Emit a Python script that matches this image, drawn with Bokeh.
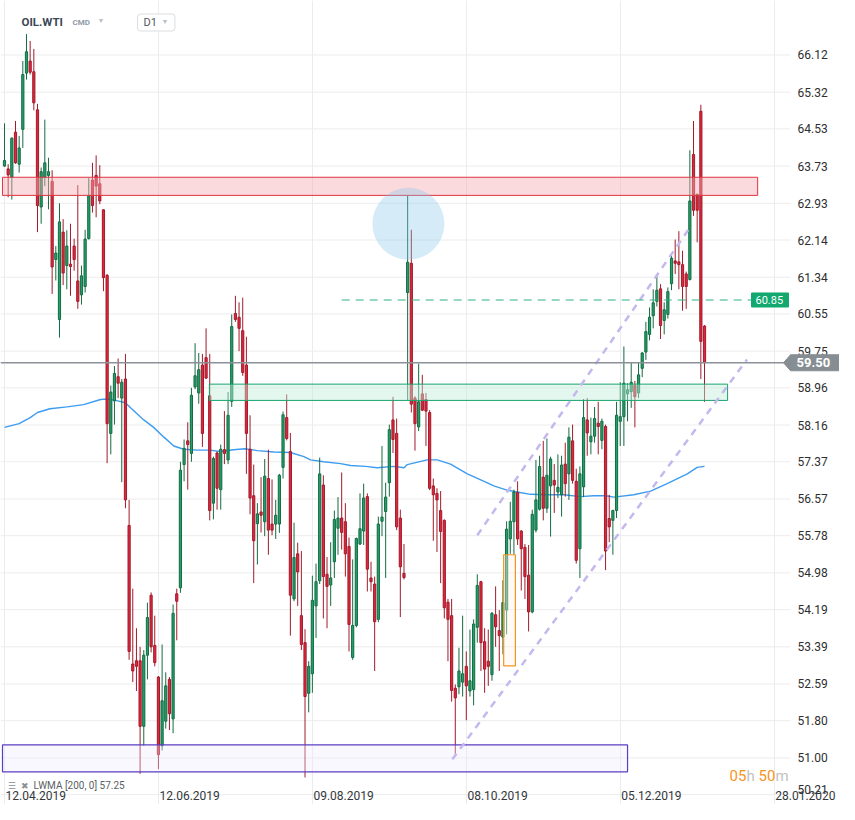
import numpy as np
from bokeh.plotting import figure
from bokeh.models import ColumnDataSource, Range1d, FixedTicker, Label, Grid
from bokeh.core.properties import value
from bokeh.embed import file_html
from bokeh.resources import INLINE

# ---------------- data ----------------
symbol = "OIL.WTI"
opens = [63.73, 63.67, 63.49, 64.46, 63.77, 64.52, 65.73, 65.99, 65.76, 64.94,
         62.85, 63.49, 63.53, 63.40, 61.72, 60.43, 62.31, 61.59, 61.62, 62.01,
         61.26, 60.96, 61.14, 62.17, 63.43, 63.53, 63.35, 62.79, 61.38, 57.98,
         58.68, 59.20, 58.74, 59.15, 56.00, 53.02, 53.09, 53.09, 51.68, 53.21,
         54.50, 53.42, 52.74, 51.26, 51.79, 52.69, 51.84, 54.53, 54.66, 57.31,
         57.82, 57.55, 58.98, 58.85, 59.45, 59.61, 58.79, 56.48, 57.56, 56.77,
         57.63, 57.41, 58.67, 60.56, 60.48, 60.19, 59.45, 57.64, 56.64, 56.04,
         56.29, 56.08, 57.01, 56.03, 56.03, 56.03, 57.25, 58.32, 57.59, 54.42,
         55.39, 54.06, 53.48, 52.39, 52.81, 54.27, 54.81, 56.87, 54.95, 54.72,
         55.22, 55.94, 56.16, 56.08, 55.55, 53.16, 53.85, 55.60, 55.88, 56.62,
         54.87, 54.74, 53.98, 56.09, 56.30, 56.92, 58.27, 57.98, 56.16, 54.97,
         61.01, 61.64, 58.74, 58.12, 58.83, 58.71, 58.43, 56.85, 56.69, 56.32,
         56.11, 54.35, 54.06, 52.50, 52.53, 52.63, 52.97, 52.44, 52.47, 53.81,
         54.79, 53.50, 53.08, 52.79, 54.08, 53.74, 53.60, 54.18, 55.71, 56.08,
         56.71, 55.88, 55.53, 54.93, 54.14, 55.90, 56.35, 57.04, 56.37, 56.85,
         56.97, 56.72, 56.66, 57.32, 57.11, 57.82, 56.95, 55.50, 56.83, 58.27,
         57.80, 57.92, 58.20, 57.83, 58.13, 56.15, 56.11, 56.32, 58.24, 58.34,
         58.83, 58.88, 59.01, 58.85, 59.38, 59.73, 60.11, 60.51, 60.82, 61.09,
         60.41, 60.54, 61.20, 61.69, 61.67, 61.61, 61.41, 61.29, 63.98, 63.12,
         64.91, 60.29]
highs = [64.65, 63.77, 64.35, 64.70, 64.38, 65.99, 66.57, 66.42, 66.25, 65.07,
         63.70, 64.73, 63.91, 63.64, 62.01, 62.93, 62.59, 62.35, 62.49, 62.17,
         63.32, 61.59, 62.36, 63.47, 63.80, 63.96, 63.75, 62.80, 61.41, 59.01,
         59.43, 59.59, 59.15, 59.69, 56.55, 54.64, 53.79, 53.39, 53.32, 54.34,
         54.56, 54.06, 52.76, 53.44, 52.84, 52.74, 54.30, 54.64, 57.37, 57.85,
         58.22, 58.96, 59.92, 59.71, 59.69, 60.24, 59.69, 57.48, 57.59, 57.74,
         58.46, 58.87, 60.54, 60.94, 60.80, 60.90, 60.06, 58.37, 57.31, 56.48,
         57.04, 57.43, 57.63, 56.99, 56.55, 57.11, 58.45, 58.82, 57.99, 56.06,
         55.63, 55.45, 53.77, 53.08, 54.92, 55.18, 57.46, 57.08, 55.32, 55.64,
         56.32, 56.61, 57.14, 56.48, 55.74, 55.27, 55.74, 56.69, 56.90, 56.69,
         55.22, 54.90, 56.19, 57.71, 56.92, 58.17, 58.77, 58.30, 56.34, 55.60,
         63.10, 62.36, 58.78, 59.48, 59.24, 58.85, 58.48, 57.01, 56.80, 56.74,
         56.13, 54.42, 54.42, 52.58, 53.37, 54.06, 53.29, 53.76, 53.98, 54.95,
         54.81, 53.79, 53.76, 54.14, 54.69, 54.18, 54.82, 56.09, 56.51, 56.77,
         56.95, 55.90, 55.60, 55.58, 56.34, 57.41, 57.50, 57.82, 57.87, 57.48,
         57.32, 57.53, 57.50, 57.78, 58.11, 58.17, 57.22, 57.27, 58.72, 58.74,
         58.32, 58.55, 58.66, 58.30, 58.17, 56.66, 56.34, 58.66, 59.08, 59.85,
         59.06, 59.51, 59.11, 59.50, 59.73, 60.38, 60.69, 61.08, 61.40, 61.19,
         60.80, 61.12, 61.82, 62.15, 62.33, 61.91, 61.46, 64.07, 64.70, 63.14,
         65.05, 60.31]
lows = [63.72, 63.06, 63.01, 63.78, 63.59, 64.12, 65.59, 65.70, 64.93, 62.31,
        62.49, 63.30, 62.80, 60.98, 61.27, 60.04, 61.17, 61.08, 60.94, 61.48,
        60.66, 60.75, 61.01, 62.15, 62.73, 62.63, 62.91, 61.04, 57.34, 57.53,
        58.17, 58.74, 56.93, 56.37, 53.11, 52.63, 52.44, 50.66, 51.26, 52.69,
        53.27, 52.97, 50.76, 51.16, 51.63, 51.60, 51.53, 53.53, 54.55, 56.95,
        56.77, 57.37, 58.93, 58.62, 57.69, 59.15, 56.11, 56.13, 56.34, 56.34,
        57.32, 57.32, 58.55, 60.38, 59.75, 59.22, 57.11, 56.24, 54.76, 55.16,
        55.85, 55.77, 55.37, 55.79, 55.71, 55.84, 57.01, 57.83, 53.63, 54.37,
        54.27, 53.32, 50.58, 51.98, 52.40, 53.58, 54.74, 54.00, 53.79, 54.27,
        54.87, 55.37, 55.48, 54.90, 53.29, 53.11, 53.81, 55.58, 55.58, 54.58,
        54.58, 52.87, 53.92, 55.77, 54.87, 56.62, 57.56, 55.90, 54.03, 54.84,
        58.69, 58.43, 57.61, 58.03, 58.46, 57.71, 56.76, 55.67, 55.43, 54.76,
        54.00, 53.08, 52.21, 51.05, 52.37, 52.32, 51.81, 52.32, 52.13, 53.48,
        52.87, 52.40, 52.55, 52.66, 53.39, 52.87, 53.23, 53.66, 55.39, 55.37,
        55.58, 54.60, 54.42, 53.72, 54.11, 55.85, 56.32, 56.11, 56.27, 55.76,
        56.27, 56.59, 56.19, 56.62, 56.55, 56.90, 55.18, 54.87, 56.61, 57.50,
        57.53, 57.78, 57.53, 57.64, 55.04, 55.64, 55.37, 56.16, 57.71, 57.71,
        58.24, 58.53, 58.11, 58.74, 59.19, 59.56, 59.98, 60.24, 60.71, 60.01,
        60.11, 60.45, 61.06, 61.41, 61.08, 60.62, 60.66, 61.27, 62.66, 62.09,
        59.15, 58.66]
closes = [63.85, 63.54, 64.33, 63.80, 64.12, 65.70, 66.19, 65.75, 65.09, 62.88,
          63.61, 63.80, 63.61, 61.56, 61.86, 62.53, 61.43, 62.01, 61.57, 61.72,
          60.82, 61.37, 62.16, 63.10, 62.88, 63.30, 62.98, 61.33, 58.19, 58.87,
          59.27, 59.06, 59.08, 56.55, 53.29, 52.87, 52.97, 51.68, 53.21, 54.02,
          53.39, 53.05, 51.07, 52.23, 52.55, 51.95, 54.11, 54.37, 57.19, 57.66,
          57.74, 58.80, 59.22, 59.35, 57.98, 59.17, 56.32, 57.44, 56.80, 57.64,
          57.55, 58.37, 60.28, 60.43, 60.24, 59.29, 57.98, 56.59, 55.67, 56.25,
          56.22, 57.06, 55.90, 55.90, 56.22, 57.08, 58.38, 57.87, 54.50, 55.31,
          55.00, 53.44, 52.32, 52.97, 54.39, 54.79, 57.11, 54.90, 54.69, 54.87,
          56.13, 56.16, 55.85, 55.39, 53.87, 53.85, 55.72, 55.93, 56.59, 55.06,
          54.79, 53.93, 56.03, 56.18, 56.61, 58.06, 57.85, 55.97, 55.11, 54.88,
          61.66, 58.61, 58.19, 58.66, 58.48, 58.46, 56.80, 56.66, 56.55, 55.87,
          54.23, 53.98, 52.45, 52.29, 52.87, 52.81, 52.55, 52.66, 53.88, 54.71,
          53.48, 52.91, 52.97, 54.11, 53.82, 53.63, 54.34, 55.92, 56.09, 56.72,
          55.71, 55.50, 54.90, 54.14, 56.24, 56.55, 57.27, 56.37, 57.08, 57.43,
          56.87, 56.82, 57.30, 56.90, 57.90, 56.97, 55.25, 57.11, 58.32, 57.99,
          57.92, 58.30, 58.13, 58.24, 55.45, 55.97, 56.32, 58.37, 58.34, 59.06,
          58.92, 59.08, 58.77, 59.24, 59.71, 60.17, 60.48, 60.79, 61.06, 60.30,
          60.64, 61.03, 61.75, 61.64, 61.61, 61.14, 61.14, 62.98, 62.78, 62.78,
          59.96, 59.50]

price_ticks = [50.21, 51.00, 51.80, 52.59, 53.39, 54.19, 54.98, 55.78, 56.57, 57.37,
               58.16, 58.96, 59.75, 60.55, 61.34, 62.14, 62.93, 63.73, 64.53, 65.32, 66.12]
date_idx = [0, 42, 84, 126, 168, 210]
date_labels = ["12.04.2019", "12.06.2019", "09.08.2019", "08.10.2019", "05.12.2019", "28.01.2020"]

lwma_idx = [0, 4, 7, 9, 12.4, 17.1, 21.6, 26.2, 28, 30.3, 33, 34.4, 38, 40.7, 43.5, 46.2,
            48.9, 52.5, 56.1, 58.8, 62.5, 65.6, 69, 73.5, 78, 81.7, 83.5, 87.1, 91.7, 94.4,
            98.5, 101.7, 106.2, 109, 109.9, 115.3, 118.1, 121.7, 126.3, 131.3, 133.5, 137.1,
            139.9, 143.5, 148.1, 152.6, 157.1, 160.8, 164, 166.3, 171.7, 176.3, 180.8, 186.3,
            189, 191]
lwma_val = [58.11, 58.19, 58.32, 58.43, 58.51, 58.55, 58.60, 58.71, 58.72, 58.69, 58.64,
            58.53, 58.27, 58.11, 57.90, 57.71, 57.64, 57.62, 57.62, 57.59, 57.63, 57.65,
            57.61, 57.58, 57.57, 57.48, 57.41, 57.37, 57.33, 57.29, 57.27, 57.24, 57.27,
            57.24, 57.31, 57.41, 57.41, 57.32, 57.11, 56.93, 56.85, 56.76, 56.72, 56.67,
            56.66, 56.66, 56.62, 56.64, 56.64, 56.61, 56.66, 56.74, 56.90, 57.11, 57.25, 57.27]
lwma_period = 200
lwma_last = 57.25

last_price = 59.50
target_level = 60.85
target_idx = [92.0, 203.8]

resistance_zone = [63.10, 63.49]
resistance_idx = [-0.55, 205.5]
support_zone = [58.69, 59.04]
support_idx = [55.9, 197.3]
base_zone = [50.70, 51.28]
base_idx = [-0.55, 170.0]
breakout_box = [52.98, 55.37]
breakout_idx = [136.2, 139.4]
spike_idx = [110.2]
spike_val = [62.49]
channel_upper_idx = [129.0, 187.2]
channel_upper_val = [55.79, 62.43]
channel_lower_idx = [122.2, 202.6]
channel_lower_val = [50.97, 59.57]

# ---------------- layout ----------------
W, H = 839, 804
PX_PER_BAR = 3.665     # horizontal pixels per bar
PX_PER_UNIT = 46.49    # vertical pixels per price unit
TOP_PRICE = 67.292     # price at the top edge


def ux(r):
    """layout x pixel -> bar index"""
    return (r - 4) / PX_PER_BAR


def uy(r):
    """layout y pixel -> price"""
    return TOP_PRICE - r / PX_PER_UNIT


FONT = "Roboto"
GREEN_FILL, GREEN_LINE = "#22a06b", "#146b43"
RED_FILL, RED_LINE = "#e1263c", "#a01b2b"
GRID = "#ececec"

p = figure(width=W, height=H, x_range=Range1d(ux(0), ux(W)), y_range=Range1d(uy(H), uy(0)),
           output_backend="svg", toolbar_location=None, tools="",
           x_axis_location=None, y_axis_location=None,
           min_border_left=0, min_border_top=0, min_border_bottom=0, min_border_right=0)
p.outline_line_color = None
p.background_fill_color = "white"
p.border_fill_color = "white"
p.xgrid.visible = False
p.ygrid.visible = False

# grid: vertical lines at the date ticks, horizontal lines at the price ticks (plot area only)
p.add_layout(Grid(dimension=0, ticker=FixedTicker(ticks=date_idx), grid_line_color=GRID))
n_t = len(price_ticks)
p.segment(x0=[ux(0)] * n_t, x1=[ux(790)] * n_t, y0=price_ticks, y1=price_ticks,
          line_color=GRID, line_width=1)

# price scale labels (right side); the lowest one is nudged up like the original
tick_src = ColumnDataSource(dict(x=[ux(797)] * n_t, y=price_ticks,
                                 text=[f"{v:.2f}" for v in price_ticks],
                                 dy=[-5] + [0] * (n_t - 1)))
p.text(x="x", y="y", text="text", y_offset="dy", source=tick_src,
       text_font=value(FONT), text_font_size="12px", text_color="#2e2e2e",
       text_align="left", text_baseline="middle")

# LWMA
p.line(lwma_idx, lwma_val, line_color="#3d9cf0", line_width=1.4)

# candles
idx = np.arange(len(opens))
o = np.array(opens); c = np.array(closes)
up = c >= o
src = ColumnDataSource(dict(
    x=idx, high=highs, low=lows,
    top=np.maximum(o, c), bottom=np.minimum(o, c),
    fill=[GREEN_FILL if u else RED_FILL for u in up],
    line=[GREEN_LINE if u else RED_LINE for u in up]))
p.segment(x0="x", y0="high", x1="x", y1="low", line_color="line", line_width=1, source=src)
p.vbar(x="x", width=0.6, top="top", bottom="bottom", fill_color="fill", line_color="line",
       line_width=1, source=src)

# zones
p.quad(left=[resistance_idx[0]], right=[resistance_idx[1]], bottom=[resistance_zone[0]], top=[resistance_zone[1]],
       fill_color="#f4adb3", fill_alpha=0.45, line_color="#e0343f", line_width=1)
p.quad(left=[support_idx[0]], right=[support_idx[1]], bottom=[support_zone[0]], top=[support_zone[1]],
       fill_color="#c3eddc", fill_alpha=0.45, line_color="#17a36b", line_width=1)
p.quad(left=[base_idx[0]], right=[base_idx[1]], bottom=[base_zone[0]], top=[base_zone[1]],
       fill_color="#ecebfd", fill_alpha=0.35, line_color="#5b3cc4", line_width=1.2)
p.quad(left=[breakout_idx[0]], right=[breakout_idx[1]], bottom=[breakout_box[0]], top=[breakout_box[1]],
       fill_color="#fff3e6", fill_alpha=0.4, line_color="#f7931e", line_width=1.2)

# highlight circle
p.scatter(spike_idx, spike_val, marker="circle", size=72, fill_color="#87c6ec", fill_alpha=0.35, line_color=None)

# channel lines
p.line(channel_upper_idx, channel_upper_val, line_color="#c4b8ef", line_width=2.5, line_dash="7 6")
p.line(channel_lower_idx, channel_lower_val, line_color="#c4b8ef", line_width=2.5, line_dash="7 6")

# target dashed level and its tag
hh = 8 / PX_PER_UNIT
p.line(target_idx, [target_level, target_level], line_color="#2fb482", line_width=1.2, line_dash="8 6")
p.quad(left=[ux(751)], right=[ux(788)], bottom=[target_level - 7 / PX_PER_UNIT],
       top=[target_level + 7 / PX_PER_UNIT], fill_color="#12a870", line_color="#12a870")
p.text(x=[ux(755)], y=[target_level], text=[f"{target_level:.2f}"], text_font=value(FONT),
       text_font_size="11px", text_color="white", text_align="left", text_baseline="middle")

# current price line and tag
p.segment(x0=[ux(0)], x1=[ux(785)], y0=[last_price], y1=[last_price], line_color="#8b9196", line_width=1.5)
p.patch([ux(783), ux(790), ux(843), ux(843), ux(790)],
        [last_price, last_price + hh, last_price + hh, last_price - hh, last_price - hh],
        fill_color="#878e93", line_color="#878e93")
p.text(x=[ux(796)], y=[last_price], text=[f"{last_price:.2f}"], text_font=value(FONT),
       text_font_size="13px", text_font_style="bold", text_color="white",
       text_align="left", text_baseline="middle")


def lab(x, y, text, size, color, bold=False, align="left", **kw):
    p.add_layout(Label(x=x, y=y, text=text, text_font=FONT, text_font_size=f"{size}px",
                       text_font_style="bold" if bold else "normal", text_color=color,
                       text_align=align, text_baseline="middle", **kw))


# date labels (left aligned on their grid lines)
for d, t in zip(date_idx, date_labels):
    lab(d + 0.3, uy(795), t, 12, "#33373b")

# header
lab(ux(21), uy(21), symbol, 11.5, "#3b4856", bold=True)
lab(ux(72), uy(21.5), "CMD", 8, "#8d99a6", bold=True)
lab(ux(97), uy(20), "\u25bc", 7, "#b9c0c7")
lab(ux(137), uy(22), "D1", 11, "#505a64", background_fill_color="white",
    border_line_color="#dadde0", padding=dict(left=6, right=18, top=2, bottom=2), border_radius=3)
lab(ux(161), uy(21.5), "\u25bc", 7, "#b9c0c7")

# legend
lab(ux(7), uy(785), "\u2630", 9, "#8a8f94")
lab(ux(20), uy(785), "\u2716", 9, "#8a8f94")
lab(ux(33), uy(785), f"LWMA [{lwma_period},  0] {lwma_last:.2f}", 10, "#5a5f64")

# timer
lab(ux(729), uy(775), "05", 15, "#f7941d")
lab(ux(746), uy(775), "h", 15, "#c2c2c2")
lab(ux(758), uy(775), "50", 15, "#f7941d")
lab(ux(775), uy(775), "m", 15, "#c2c2c2")

open("out.html", "w").write(file_html(p, INLINE))
